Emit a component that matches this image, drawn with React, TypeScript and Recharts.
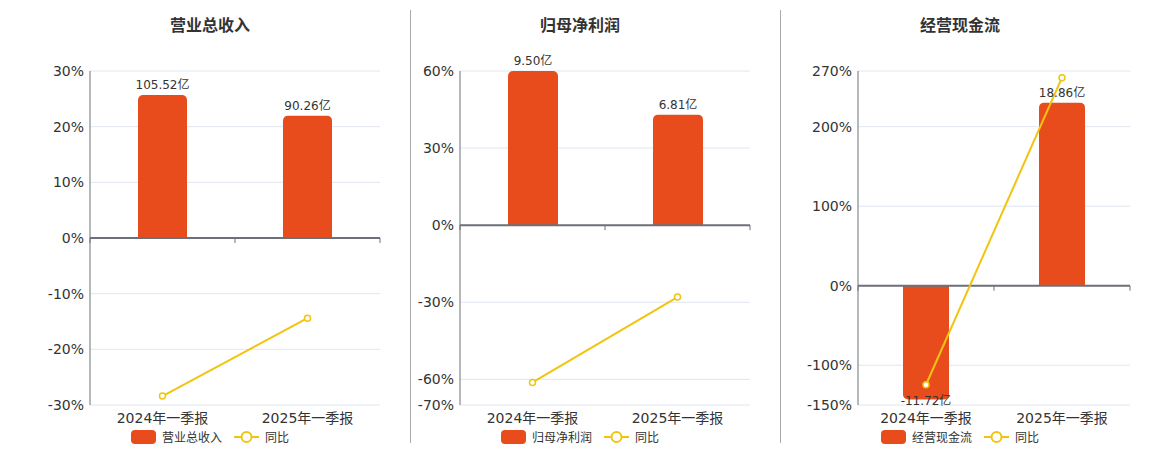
import {
  ComposedChart,
  Bar,
  Line,
  XAxis,
  YAxis,
  CartesianGrid,
  LabelList,
  ReferenceLine,
} from 'recharts';

// ── Données ────────────────────────────────────────────────

const categories = ['2024年一季报', '2025年一季报'];

const revenue = [105.52, 90.26];
const revenueYoy = [-28.4, -14.4];
const revenueTicks = [-30, -20, -10, 0, 10, 20, 30];

const profit = [9.5, 6.81];
const profitYoy = [-61.2, -28.0];
const profitTicks = [-70, -60, -30, 0, 30, 60];

const cashflow = [-11.72, 18.86];
const cashflowYoy = [-124.5, 261.6];
const cashflowTicks = [-150, -100, 0, 100, 200, 270];

// ── Styles ─────────────────────────────────────────────────

const BAR = '#E84C1D';
const LINE = '#F2C40F';
const AXIS = '#6E7079';
const GRID = '#E0E6F1';
const TEXT = '#333';
const FONT = '"DejaVu Sans", "Noto Sans CJK SC", sans-serif';

interface Panel {
  title: string;
  name: string;
  bars: number[];
  yoy: number[];
  ticks: number[];
  barDomain: [number, number];
  left: number;
  width: number;
  axisWidth: number;
  right: number;
  center: number;
  barSize: number;
}

const panels: Panel[] = [
  {
    title: '营业总收入',
    name: '营业总收入',
    bars: revenue,
    yoy: revenueYoy,
    ticks: revenueTicks,
    barDomain: [-123.2, 123.2],
    left: 0,
    width: 395,
    axisWidth: 90,
    right: 15,
    center: 210,
    barSize: 49,
  },
  {
    title: '归母净利润',
    name: '归母净利润',
    bars: profit,
    yoy: profitYoy,
    ticks: profitTicks,
    barDomain: [-11.083, 9.5],
    left: 400,
    width: 365,
    axisWidth: 60,
    right: 15,
    center: 580,
    barSize: 50,
  },
  {
    title: '经营现金流',
    name: '经营现金流',
    bars: cashflow,
    yoy: cashflowYoy,
    ticks: cashflowTicks,
    barDomain: [-12.29, 22.12],
    left: 780,
    width: 380,
    axisWidth: 78,
    right: 30,
    center: 960,
    barSize: 46,
  },
];

// ── Axe zéro avec graduations ──────────────────────────────

function ZeroAxis(props: any) {
  const { x1, y1, x2, y2 } = props;
  const n = categories.length;
  const marks = Array.from({ length: n + 1 }, (_, i) => x1 + ((x2 - x1) * i) / n);
  return (
    <g>
      <line x1={x1} y1={y1} x2={x2} y2={y2} stroke={AXIS} strokeWidth={2} />
      {marks.map((x) => (
        <line key={x} x1={x} x2={x} y1={y1} y2={y1 + 5} stroke={AXIS} strokeWidth={1} />
      ))}
    </g>
  );
}

// ── Étiquette des barres ───────────────────────────────────

function BarLabel(props: any) {
  const { x, y, width, height, value } = props;
  const v = Number(value);
  const top = Math.min(y, y + height);
  const bottom = Math.max(y, y + height);
  const ty = v < 0 ? bottom + 6 : top - 6;
  return (
    <text x={x + width / 2} y={ty} textAnchor="middle" fill={TEXT} fontSize={12}>
      {`${v.toFixed(2)}亿`}
    </text>
  );
}

// ── Légende ────────────────────────────────────────────────

function Legend({ name, center }: { name: string; center: number }) {
  return (
    <div
      style={{
        position: 'absolute',
        left: center - 120,
        width: 240,
        top: 428,
        display: 'flex',
        justifyContent: 'center',
        alignItems: 'center',
        fontSize: 12,
        color: TEXT,
        fontFamily: FONT,
      }}
    >
      <span style={{ width: 25, height: 14, borderRadius: 4, background: BAR, display: 'inline-block' }} />
      <span style={{ marginLeft: 6 }}>{name}</span>
      <svg width={25} height={14} style={{ marginLeft: 12 }}>
        <line x1={0} y1={7} x2={25} y2={7} stroke={LINE} strokeWidth={2} />
        <circle cx={12.5} cy={7} r={5} fill="#fff" stroke={LINE} strokeWidth={2} />
      </svg>
      <span style={{ marginLeft: 6 }}>同比</span>
    </div>
  );
}

// ── Graphique ──────────────────────────────────────────────

function PanelChart({ p }: { p: Panel }) {
  const data = categories.map((c, i) => ({ name: c, bar: p.bars[i], yoy: p.yoy[i] }));
  const lo = p.ticks[0];
  const hi = p.ticks[p.ticks.length - 1];
  return (
    <>
      <div
        style={{
          position: 'absolute',
          left: p.center - 100,
          width: 200,
          top: 12,
          textAlign: 'center',
          fontSize: 16,
          fontWeight: 'bold',
          color: TEXT,
          fontFamily: FONT,
        }}
      >
        {p.title}
      </div>
      <div style={{ position: 'absolute', left: p.left, top: 0 }}>
        <ComposedChart
          width={p.width}
          height={450}
          data={data}
          margin={{ top: 71, right: p.right, bottom: 15, left: 0 }}
          style={{ fontFamily: FONT }}
        >
          <CartesianGrid yAxisId="pct" vertical={false} stroke={GRID} />
          <XAxis
            dataKey="name"
            height={30}
            axisLine={false}
            tickLine={false}
            tick={{ fill: TEXT, fontSize: 14 }}
            interval={0}
          />
          <YAxis
            yAxisId="pct"
            domain={[lo, hi]}
            ticks={p.ticks}
            interval={0}
            width={p.axisWidth}
            tickFormatter={(v: number) => `${v}%`}
            tick={{ fill: TEXT, fontSize: 14 }}
            axisLine={{ stroke: AXIS }}
            tickLine={false}
            tickSize={4}
            tickMargin={2}
            allowDataOverflow
          />
          <YAxis yAxisId="bar" orientation="right" hide domain={p.barDomain} allowDataOverflow />
          <Bar
            yAxisId="bar"
            dataKey="bar"
            fill={BAR}
            barSize={p.barSize}
            radius={[5, 5, 0, 0]}
            isAnimationActive={false}
          >
            <LabelList dataKey="bar" content={BarLabel} />
          </Bar>
          <ReferenceLine yAxisId="pct" y={0} shape={ZeroAxis} />
          <Line
            yAxisId="pct"
            dataKey="yoy"
            stroke={LINE}
            strokeWidth={2}
            dot={{ r: 3, fill: '#fff', stroke: LINE, strokeWidth: 1.5 }}
            isAnimationActive={false}
          />
        </ComposedChart>
      </div>
      <Legend name={p.name} center={p.center} />
    </>
  );
}

export default function App() {
  return (
    <div
      style={{
        position: 'absolute',
        left: 0,
        top: 0,
        width: 1160,
        height: 450,
        background: '#fff',
        overflow: 'hidden',
      }}
    >
      <div style={{ position: 'absolute', left: 410, top: 10, width: 1, height: 433, background: '#aaa' }} />
      <div style={{ position: 'absolute', left: 780, top: 10, width: 1, height: 433, background: '#aaa' }} />
      {panels.map((p) => (
        <PanelChart key={p.title} p={p} />
      ))}
    </div>
  );
}
